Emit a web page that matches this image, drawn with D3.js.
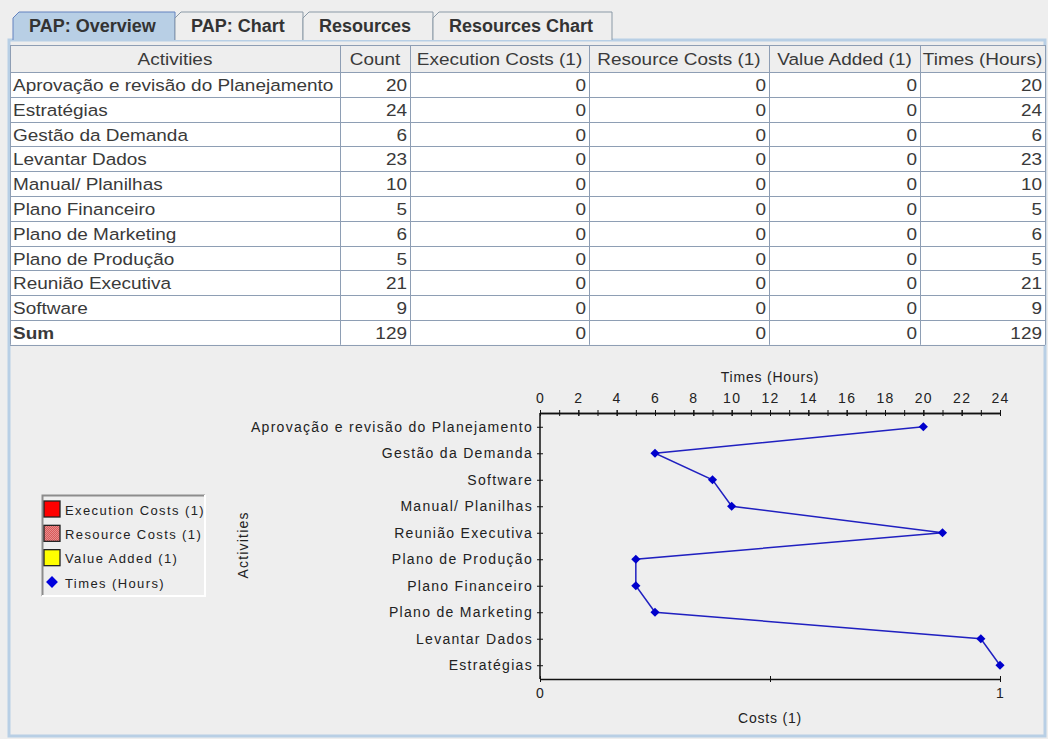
<!DOCTYPE html>
<html>
<head>
<meta charset="utf-8">
<script src="https://cdn.jsdelivr.net/npm/d3@7"></script>
<style>
  body { margin: 0; background: #eeeeee; }
  svg text { font-family: "Liberation Sans", Arial, sans-serif; fill: #222; }
</style>
</head>
<body>
<svg id="root" width="1048" height="739"></svg>
<script>
// Tabs and table columns
const tabNames = ["PAP: Overview", "PAP: Chart", "Resources", "Resources Chart"];
const columnNames = ["Activities", "Count", "Execution Costs (1)", "Resource Costs (1)", "Value Added (1)", "Times (Hours)"];

// Table data (alphabetical, as in the table)
const activities = ["Aprovação e revisão do Planejamento", "Estratégias", "Gestão da Demanda", "Levantar Dados",
  "Manual/ Planilhas", "Plano Financeiro", "Plano de Marketing", "Plano de Produção", "Reunião Executiva", "Software"];
const counts = [20, 24, 6, 23, 10, 5, 6, 5, 21, 9];
const executionCosts = [0, 0, 0, 0, 0, 0, 0, 0, 0, 0];
const resourceCosts = [0, 0, 0, 0, 0, 0, 0, 0, 0, 0];
const valueAdded = [0, 0, 0, 0, 0, 0, 0, 0, 0, 0];
const timesHours = [20, 24, 6, 23, 10, 5, 6, 5, 21, 9];

// Chart data (order as plotted, top to bottom)
const chartActivities = ["Aprovação e revisão do Planejamento", "Gestão da Demanda", "Software", "Manual/ Planilhas",
  "Reunião Executiva", "Plano de Produção", "Plano Financeiro", "Plano de Marketing", "Levantar Dados", "Estratégias"];
const chartTimes = [20, 6, 9, 10, 21, 5, 5, 6, 23, 24];
const costTickValues = [0, 0.5, 1];

const legendNames = ["Execution Costs (1)", "Resource Costs (1)", "Value Added (1)", "Times (Hours)"];

const svg = d3.select("#root");

const defs = svg.append("defs");
const pat = defs.append("pattern")
  .attr("id", "checker")
  .attr("width", 2).attr("height", 2)
  .attr("patternUnits", "userSpaceOnUse");
pat.append("rect").attr("width", 2).attr("height", 2).attr("fill", "#f4c4c4");
pat.append("rect").attr("width", 1).attr("height", 1).attr("fill", "#cc2222");
pat.append("rect").attr("x", 1).attr("y", 1).attr("width", 1).attr("height", 1).attr("fill", "#cc2222");

// content panel of the tabbed pane
svg.append("rect")
  .attr("x", 9).attr("y", 40).attr("width", 1036).attr("height", 696)
  .attr("fill", "#eeeeee")
  .attr("stroke", "#b8cfe5").attr("stroke-width", 3);

/* ---------- tabs ---------- */
const tabX = [13, 175, 303, 433, 612];
const tabTop = 12, tabBottom = 40;
const tabs = svg.append("g").selectAll("g")
  .data(tabNames)
  .join("g");

tabs.append("path")
  .attr("d", (d, i) => {
    const x0 = tabX[i], x1 = tabX[i + 1];
    return `M${x0},${tabBottom} L${x0},${tabTop + 6} L${x0 + 6},${tabTop} L${x1},${tabTop} L${x1},${tabBottom}`;
  })
  .attr("fill", (d, i) => i === 0 ? "#b8cfe5" : "#eeeeee")
  .attr("stroke", (d, i) => i === 0 ? "#6382bf" : "#8a99a6")
  .attr("stroke-width", 1);

tabs.append("text")
  .attr("x", (d, i) => tabX[i] + 16)
  .attr("y", 26)
  .attr("dominant-baseline", "central")
  .style("font-weight", "bold")
  .style("font-size", "18px")
  .style("fill", "#333")
  .text(d => d);

/* ---------- table ---------- */
const colEdges = [10, 340, 410, 589, 769, 920, 1045];
const tableTop = 45, headerH = 27, rowH = 24.8;
const stretch = 1.15;
const gridColor = "#8e9eb4";

const rows = activities.map((a, i) => [a, counts[i], executionCosts[i], resourceCosts[i], valueAdded[i], timesHours[i]]);
rows.push(["Sum", d3.sum(counts), d3.sum(executionCosts), d3.sum(resourceCosts), d3.sum(valueAdded), d3.sum(timesHours)]);

const rowY = d3.scaleLinear().domain([0, 1]).range([tableTop + headerH, tableTop + headerH + rowH]);
const tableBottom = rowY(rows.length);

const table = svg.append("g");
table.append("rect")
  .attr("x", colEdges[0]).attr("y", tableTop)
  .attr("width", colEdges[6] - colEdges[0]).attr("height", headerH)
  .attr("fill", "#eeeeee");
table.append("rect")
  .attr("x", colEdges[0]).attr("y", tableTop + headerH)
  .attr("width", colEdges[6] - colEdges[0]).attr("height", tableBottom - tableTop - headerH)
  .attr("fill", "#ffffff");

// grid lines
table.selectAll("line.h")
  .data(d3.range(rows.length + 1))
  .join("line")
  .attr("x1", colEdges[0]).attr("x2", colEdges[6])
  .attr("y1", i => Math.round(rowY(i)) + 0.5).attr("y2", i => Math.round(rowY(i)) + 0.5)
  .attr("stroke", gridColor);
table.selectAll("line.v")
  .data(colEdges)
  .join("line")
  .attr("x1", d => d + 0.5).attr("x2", d => d + 0.5)
  .attr("y1", tableTop).attr("y2", tableBottom)
  .attr("stroke", gridColor);
table.append("line")
  .attr("x1", colEdges[0]).attr("x2", colEdges[6])
  .attr("y1", tableTop + 0.5).attr("y2", tableTop + 0.5)
  .attr("stroke", gridColor);

// header text
table.selectAll("text.head")
  .data(columnNames)
  .join("text")
  .attr("transform", (d, i) => `translate(${(colEdges[i] + colEdges[i + 1]) / 2},${tableTop + headerH / 2 + 1}) scale(${stretch},1)`)
  .attr("text-anchor", "middle")
  .attr("dominant-baseline", "central")
  .style("font-size", "16.5px")
  .style("fill", "#3a3a3a")
  .text(d => d);

// body cells
rows.forEach((r, ri) => {
  const cy = rowY(ri + 0.5) + 1;
  table.append("g").selectAll("text")
    .data(r)
    .join("text")
    .attr("transform", (d, ci) => {
      const x = ci === 0 ? colEdges[0] + 3 : colEdges[ci + 1] - 3;
      return `translate(${x},${cy}) scale(${stretch},1)`;
    })
    .attr("text-anchor", (d, ci) => ci === 0 ? "start" : "end")
    .attr("dominant-baseline", "central")
    .style("font-size", "16.5px")
    .style("fill", "#3a3a3a")
    .style("font-weight", (d, ci) => (ci === 0 && d === "Sum") ? "bold" : "normal")
    .text(d => d);
});

/* ---------- chart ---------- */
const plot = { left: 540, right: 1000, top: 413, bottom: 679 };
const chartFont = "14px";

const xTime = d3.scaleLinear().domain([0, 24]).range([plot.left, plot.right]);
const xCost = d3.scaleLinear().domain([0, 1]).range([plot.left, plot.right]);
const yAct = d3.scalePoint().domain(chartActivities).range([plot.top, plot.bottom]).padding(0.52);

const chart = svg.append("g");

function crossTicks(g, attr) {
  g.selectAll(".tick line").attr(attr, 3).attr("stroke", "#111");
  g.select(".domain").attr("stroke", "#111").attr("stroke-width", 1.5);
  g.selectAll(".tick text")
    .style("font-size", chartFont)
    .style("letter-spacing", "1.3px")
    .attr("fill", "#222");
}

// top axis: minor ticks every hour, labels every 2
chart.append("g")
  .attr("transform", `translate(0,${plot.top})`)
  .call(d3.axisTop(xTime).ticks(24).tickSize(3).tickSizeOuter(0).tickFormat(""))
  .call(g => crossTicks(g, "y1"));
chart.append("g")
  .attr("transform", `translate(0,${plot.top})`)
  .call(d3.axisTop(xTime).ticks(12).tickSize(3).tickSizeOuter(0).tickPadding(7))
  .call(g => crossTicks(g, "y1"));

// bottom axis
chart.append("g")
  .attr("transform", `translate(0,${plot.bottom})`)
  .call(d3.axisBottom(xCost).tickValues(costTickValues).tickSize(3).tickSizeOuter(0).tickPadding(6)
    .tickFormat(d => d === 0.5 ? "" : d3.format("d")(d)))
  .call(g => crossTicks(g, "y1"))
  .call(g => g.selectAll(".tick line").attr("y1", -3));

// left axis
chart.append("g")
  .attr("transform", `translate(${plot.left},0)`)
  .call(d3.axisLeft(yAct).tickSize(3).tickSizeOuter(0).tickPadding(4))
  .call(g => crossTicks(g, "x1"))
  .call(g => g.select(".domain").attr("d", `M0,${plot.top}V${plot.bottom}`));

// axis titles
chart.append("text")
  .attr("x", (plot.left + plot.right) / 2).attr("y", 377)
  .attr("text-anchor", "middle").attr("dominant-baseline", "central")
  .style("font-size", chartFont).style("letter-spacing", "0.8px")
  .text("Times (Hours)");
chart.append("text")
  .attr("x", (plot.left + plot.right) / 2).attr("y", 718)
  .attr("text-anchor", "middle").attr("dominant-baseline", "central")
  .style("font-size", chartFont).style("letter-spacing", "0.8px")
  .text("Costs (1)");
chart.append("text")
  .attr("transform", "translate(243,545) rotate(-90)")
  .attr("text-anchor", "middle").attr("dominant-baseline", "central")
  .style("font-size", chartFont).style("letter-spacing", "1.2px")
  .text("Activities");

// series line
const pts = chartActivities.map((a, i) => ({ a, v: chartTimes[i] }));
chart.append("path")
  .datum(pts)
  .attr("fill", "none")
  .attr("stroke", "#2020c0")
  .attr("stroke-width", 1.5)
  .attr("d", d3.line().x(d => xTime(d.v)).y(d => yAct(d.a)));

const diamond = d3.symbol(d3.symbolSquare, 42);
chart.append("g").selectAll("path")
  .data(pts)
  .join("path")
  .attr("d", diamond)
  .attr("transform", d => `translate(${xTime(d.v)},${yAct(d.a)}) rotate(45)`)
  .attr("fill", "#0000cc");

/* ---------- legend ---------- */
const lg = { x: 42, y: 495, w: 163, h: 101 };
const legend = svg.append("g");
legend.append("rect")
  .attr("x", lg.x).attr("y", lg.y).attr("width", lg.w).attr("height", lg.h)
  .attr("fill", "#eeeeee");
legend.append("path")
  .attr("d", `M${lg.x + 0.5},${lg.y + lg.h} V${lg.y + 0.5} H${lg.x + lg.w}`)
  .attr("fill", "none").attr("stroke", "#8c8c8c").attr("stroke-width", 2);
legend.append("path")
  .attr("d", `M${lg.x + lg.w},${lg.y} V${lg.y + lg.h} H${lg.x}`)
  .attr("fill", "none").attr("stroke", "#ffffff").attr("stroke-width", 2);

const legendY = d3.scalePoint().domain(legendNames).range([509, 582]);
const items = legend.selectAll("g.item")
  .data(legendNames)
  .join("g")
  .attr("transform", d => `translate(${lg.x + 2},${legendY(d)})`);

const swatchFill = ["#ff0000", "url(#checker)", "#ffff00"];
items.filter((d, i) => i < 3).append("rect")
  .attr("x", 0).attr("y", -8).attr("width", 16).attr("height", 16)
  .attr("fill", (d, i) => swatchFill[i])
  .attr("stroke", "#222").attr("stroke-width", 1.3);
items.filter((d, i) => i === 3).append("path")
  .attr("d", d3.symbol(d3.symbolSquare, 70))
  .attr("transform", "translate(8,0) rotate(45)")
  .attr("fill", "#0000dd");
items.append("text")
  .attr("x", 21).attr("y", 1)
  .attr("dominant-baseline", "central")
  .style("font-size", "13px")
  .style("letter-spacing", "1.4px")
  .text(d => d);
</script>
</body>
</html>
